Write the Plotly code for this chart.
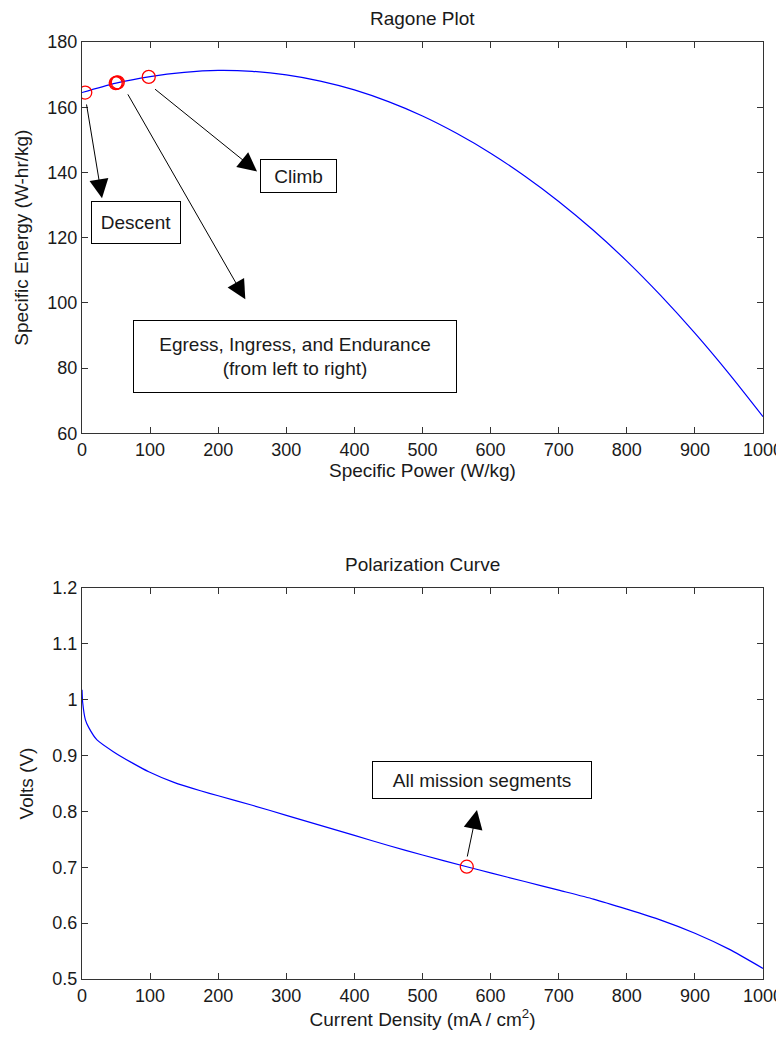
import plotly.graph_objects as go

# ---------------- data ----------------
power = [0, 50, 100, 150, 200, 250, 300, 350, 400, 450, 500, 550, 600,
         650, 700, 750, 800, 850, 900, 950, 1000]
energy = [164.5, 167.4, 169.4, 170.7, 171.3, 171.0, 169.9, 168.0, 165.3,
          161.7, 157.3, 152.0, 145.9, 138.9, 131.1, 122.4, 112.8, 102.2,
          90.7, 78.3, 65.1]

seg_power = [4.8, 49.5, 51, 52.5, 98]          # descent, egress, ingress, endurance, climb
seg_energy = [164.5, 167.4, 167.5, 167.6, 169.3]

current = [0, 1, 5, 10, 22, 46, 75, 98, 135, 174, 200, 250, 300, 350, 400,
           450, 500, 565, 600, 650, 700, 751, 800, 850, 900, 950, 1000]
volts = [1.018, 0.995, 0.964, 0.950, 0.928, 0.907, 0.886, 0.871, 0.852,
         0.837, 0.828, 0.811, 0.793, 0.775, 0.757, 0.739, 0.722, 0.701,
         0.690, 0.6745, 0.659, 0.643, 0.625, 0.6055, 0.582, 0.5535, 0.519]

op_current = [565]
op_volts = [0.701]

x_ticks = [0, 100, 200, 300, 400, 500, 600, 700, 800, 900, 1000]

FONT = "Liberation Sans"
TXT = "#1a1a1a"

fig = go.Figure()
fig.add_trace(go.Scatter(x=power, y=energy, mode="lines",
                         line=dict(color="#0000ff", width=1.2, shape="spline", smoothing=0.8),
                         xaxis="x", yaxis="y", showlegend=False))
fig.add_trace(go.Scatter(x=seg_power, y=seg_energy, mode="markers",
                         marker=dict(symbol="circle-open", size=13, color="#ff0000",
                                     line=dict(width=1.3, color="#ff0000")),
                         xaxis="x", yaxis="y", showlegend=False))
fig.add_trace(go.Scatter(x=current, y=volts, mode="lines",
                         line=dict(color="#0000ff", width=1.2, shape="spline", smoothing=0.6),
                         xaxis="x2", yaxis="y2", showlegend=False))
fig.add_trace(go.Scatter(x=op_current, y=op_volts, mode="markers",
                         marker=dict(symbol="circle-open", size=13, color="#ff0000",
                                     line=dict(width=1.3, color="#ff0000")),
                         xaxis="x2", yaxis="y2", showlegend=False))

axis_common = dict(showgrid=False, zeroline=False, showline=True, linecolor="#333333",
                   linewidth=1, mirror="ticks", ticks="inside", ticklen=6,
                   tickcolor="#333333", tickwidth=1, automargin=False,
                   tickfont=dict(family=FONT, size=18, color=TXT))

# the page body adds an 8px offset, so the figure is 8px smaller on each side
fig.update_layout(
    width=776, height=1034,
    margin=dict(l=74, r=21, t=34, b=63),
    paper_bgcolor="white", plot_bgcolor="white",
    font=dict(family=FONT, color=TXT),
    xaxis=dict(domain=[0, 1], range=[0, 1000], tickvals=x_ticks, anchor="y",
               title=dict(text="Specific Power (W/kg)", font=dict(size=19), standoff=4),
               **axis_common),
    yaxis=dict(domain=[0.5824, 1], range=[60, 180], dtick=20, anchor="x",
               title=dict(text="Specific Energy (W-hr/kg)", font=dict(size=19), standoff=13),
               **axis_common),
    xaxis2=dict(domain=[0, 1], range=[0, 1000], tickvals=x_ticks, anchor="y2",
                title=dict(text="Current Density (mA / cm<sup>2</sup>)", font=dict(size=19), standoff=4),
                **axis_common),
    yaxis2=dict(domain=[0, 0.4173], range=[0.5, 1.2], dtick=0.1, anchor="x2",
                title=dict(text="Volts (V)", font=dict(size=19), standoff=13),
                **axis_common),
)

# titles
fig.add_annotation(text="Ragone Plot", xref="paper", yref="paper", x=0.5, y=1.0256,
                   showarrow=False, yanchor="middle", font=dict(size=19))
fig.add_annotation(text="Polarization Curve", xref="paper", yref="paper", x=0.5, y=0.4429,
                   showarrow=False, yanchor="middle", font=dict(size=19))

# arrows (tail at data point, head toward label)
arrows_top = [
    # tip_x, tip_y, tail_x, tail_y
    (29.4, 132.1, 6.3, 161.3),
    (257.0, 140.3, 105.1, 165.9),
    (239.8, 101.1, 66.1, 164.4),
]
for tx, ty, sx, sy in arrows_top:
    fig.add_annotation(x=tx, y=ty, ax=sx, ay=sy, xref="x", yref="y", axref="x", ayref="y",
                       text="", showarrow=True, arrowhead=2, arrowsize=3.8, arrowwidth=1,
                       arrowcolor="black")
fig.add_annotation(x=580, y=0.8025, ax=565.3, ay=0.7166, xref="x2", yref="y2",
                   axref="x2", ayref="y2", text="", showarrow=True, arrowhead=2,
                   arrowsize=3.8, arrowwidth=1, arrowcolor="black")

# label boxes
boxes = [
    ("x", "y", 78.7, 124.7, "Descent", 89, 42),
    ("x", "y", 317.6, 138.9, "Climb", 76, 33),
    ("x", "y", 312.8, 83.5, "Egress, Ingress, and Endurance<br>(from left to right)", 323, 72),
    ("x2", "y2", 587.0, 0.8554, "All mission segments", 219, 37),
]
for xr, yr, bx, by, txt, w, h in boxes:
    fig.add_annotation(x=bx, y=by, xref=xr, yref=yr, text=txt, showarrow=False,
                       bordercolor="black", borderwidth=1, borderpad=1, bgcolor="white",
                       width=w - 3, height=h - 3, align="center", valign="middle",
                       font=dict(size=19, family=FONT, color=TXT))

fig.write_html("out.html")
